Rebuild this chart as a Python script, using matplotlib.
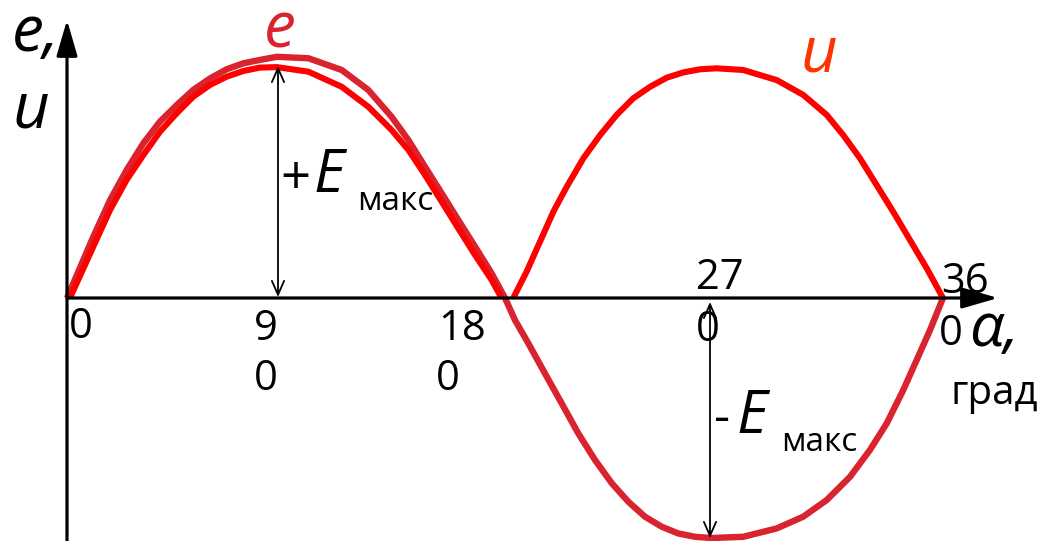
import matplotlib.pyplot as plt
from matplotlib.patches import FancyArrowPatch

# angle (deg) and relative value (1.0 = E max)
alpha_e = [0, 10.8, 17.7, 24.5, 31.4, 38.2, 45.1, 51.9, 58.8, 65.6, 72.5, 79.3, 86.2,
           99.2, 112.9, 123.8, 133.4, 140.3, 147.1, 154.0, 160.8, 167.7, 174.5, 180,
           184.1, 189.6, 196.4, 203.3, 210.1, 217.0, 223.9, 230.7, 237.5, 244.4, 251.2,
           258.1, 264.9, 277.9, 291.7, 302.6, 312.2, 321.8, 330.0, 336.9, 343.7, 349.2,
           354.7, 360]
e_vals = [0, 0.255, 0.408, 0.533, 0.645, 0.735, 0.804, 0.867, 0.915, 0.953, 0.978, 0.992, 1.005,
          0.999, 0.95, 0.867, 0.755, 0.658, 0.547, 0.436, 0.325, 0.214, 0.103, 0,
          -0.092, -0.189, -0.314, -0.439, -0.564, -0.675, -0.772, -0.849, -0.911, -0.953, -0.981,
          -0.995, -1.0, -0.995, -0.96, -0.911, -0.842, -0.745, -0.633, -0.522, -0.383, -0.258,
          -0.133, 0]

alpha_u1 = [1.2, 10.8, 17.7, 24.5, 31.4, 38.2, 45.1, 51.9, 58.8, 65.6, 72.5, 79.3, 86.2,
            99.2, 112.9, 123.8, 133.4, 140.3, 147.1, 154.0, 160.8, 167.7, 174.5, 178.6]
u_vals1 = [0, 0.214, 0.367, 0.492, 0.596, 0.693, 0.770, 0.839, 0.888, 0.922, 0.946, 0.96, 0.962,
           0.943, 0.880, 0.797, 0.70, 0.617, 0.513, 0.401, 0.29, 0.179, 0.075, 0]
alpha_u2 = [183.4, 188.9, 194.4, 199.9, 205.4, 212.2, 219.1, 225.9, 232.7, 239.6, 246.5, 253.3,
            260.2, 267.0, 277.9, 291.7, 302.6, 312.2, 319.0, 325.9, 332.7, 339.5, 346.4, 353.3, 360]
u_vals2 = [0, 0.11, 0.235, 0.360, 0.464, 0.582, 0.679, 0.763, 0.832, 0.880, 0.918, 0.940,
           0.953, 0.957, 0.95, 0.908, 0.846, 0.763, 0.679, 0.582, 0.471, 0.360, 0.242, 0.124, 0]

tick_top = ['0', '9', '18', '27', '36']
tick_bottom = ['', '0', '0', '0', '0']

E_COL = '#d9232e'
U_COL = '#ff0000'

W, H = 1044, 541
fig = plt.figure(figsize=(W / 100, H / 100), dpi=100)
ax = fig.add_axes([0, 0, 1, 1])
ax.axis('off')
# pixel frame: 0 deg at x=67, 360 deg at x=943, zero line at y=298, 1.0 = 240 px
ax.set_xlim(-67 / 2.4333, (W - 67) / 2.4333)
ax.set_ylim(-(H - 298) / 240, 298 / 240)


def P(px, py):
    return px / W, 1 - py / H


ax.plot(alpha_e, e_vals, color=E_COL, lw=4.6, solid_joinstyle='round', solid_capstyle='butt', zorder=3)
ax.plot(alpha_u1, u_vals1, color=U_COL, lw=4.4, solid_joinstyle='round', solid_capstyle='butt', zorder=4)
ax.plot(alpha_u2, u_vals2, color=U_COL, lw=4.4, solid_joinstyle='round', solid_capstyle='butt', zorder=4)

# axes arrows
for start, end in [((67, 541), (67, 20)), ((67, 298), (998, 298))]:
    fig.patches.append(FancyArrowPatch(P(*start), P(*end), transform=fig.transFigure,
                                       arrowstyle='-|>,head_length=1.1,head_width=0.32',
                                       mutation_scale=20, lw=2.3, color='black',
                                       shrinkA=0, shrinkB=0, zorder=2))

# amplitude arrows
for start, end in [((278, 297), (278, 66)), ((710, 302), (710, 538))]:
    fig.patches.append(FancyArrowPatch(P(*start), P(*end), transform=fig.transFigure,
                                       arrowstyle='<->,head_length=0.5,head_width=0.22',
                                       mutation_scale=20, lw=1.3, color='black',
                                       shrinkA=0, shrinkB=0, zorder=5))

fam = 'Open Sans'
it = dict(family=fam, style='italic')

fig.text(*P(12, 51), 'e,', fontsize=46, color='black', **it)
fig.text(*P(12, 128), 'u', fontsize=46, color='black', **it)
fig.text(*P(264, 48), 'e', fontsize=46, color=E_COL, **it)
fig.text(*P(800, 72), 'u', fontsize=46, color='#ff3300', **it)

# amplitude labels
fig.text(*P(280, 194), '+', fontsize=38, family=fam)
fig.text(*P(313, 192), 'E', fontsize=43, **it)
fig.text(*P(357, 210), 'макс', fontsize=24, family=fam)
fig.text(*P(714, 433), '-', fontsize=36, family=fam)
fig.text(*P(736, 433), 'E', fontsize=43, **it)
fig.text(*P(781, 451), 'макс', fontsize=24, family=fam)

# broken tick labels
top_pos = [(69, 338), (254, 340), (438, 340), (696, 289), (941, 293)]
bot_pos = [None, (254, 390), (436, 390), (696, 341), (939, 345)]
for lab, pos in zip(tick_top, top_pos):
    fig.text(*P(*pos), lab, fontsize=30, family=fam)
for lab, pos in zip(tick_bottom, bot_pos):
    if lab:
        fig.text(*P(*pos), lab, fontsize=30, family=fam)

fig.text(*P(969, 346), 'α,', fontsize=44, **it)
fig.text(*P(950, 404), 'град', fontsize=29, family=fam)

fig.savefig('out.png', dpi=100)
